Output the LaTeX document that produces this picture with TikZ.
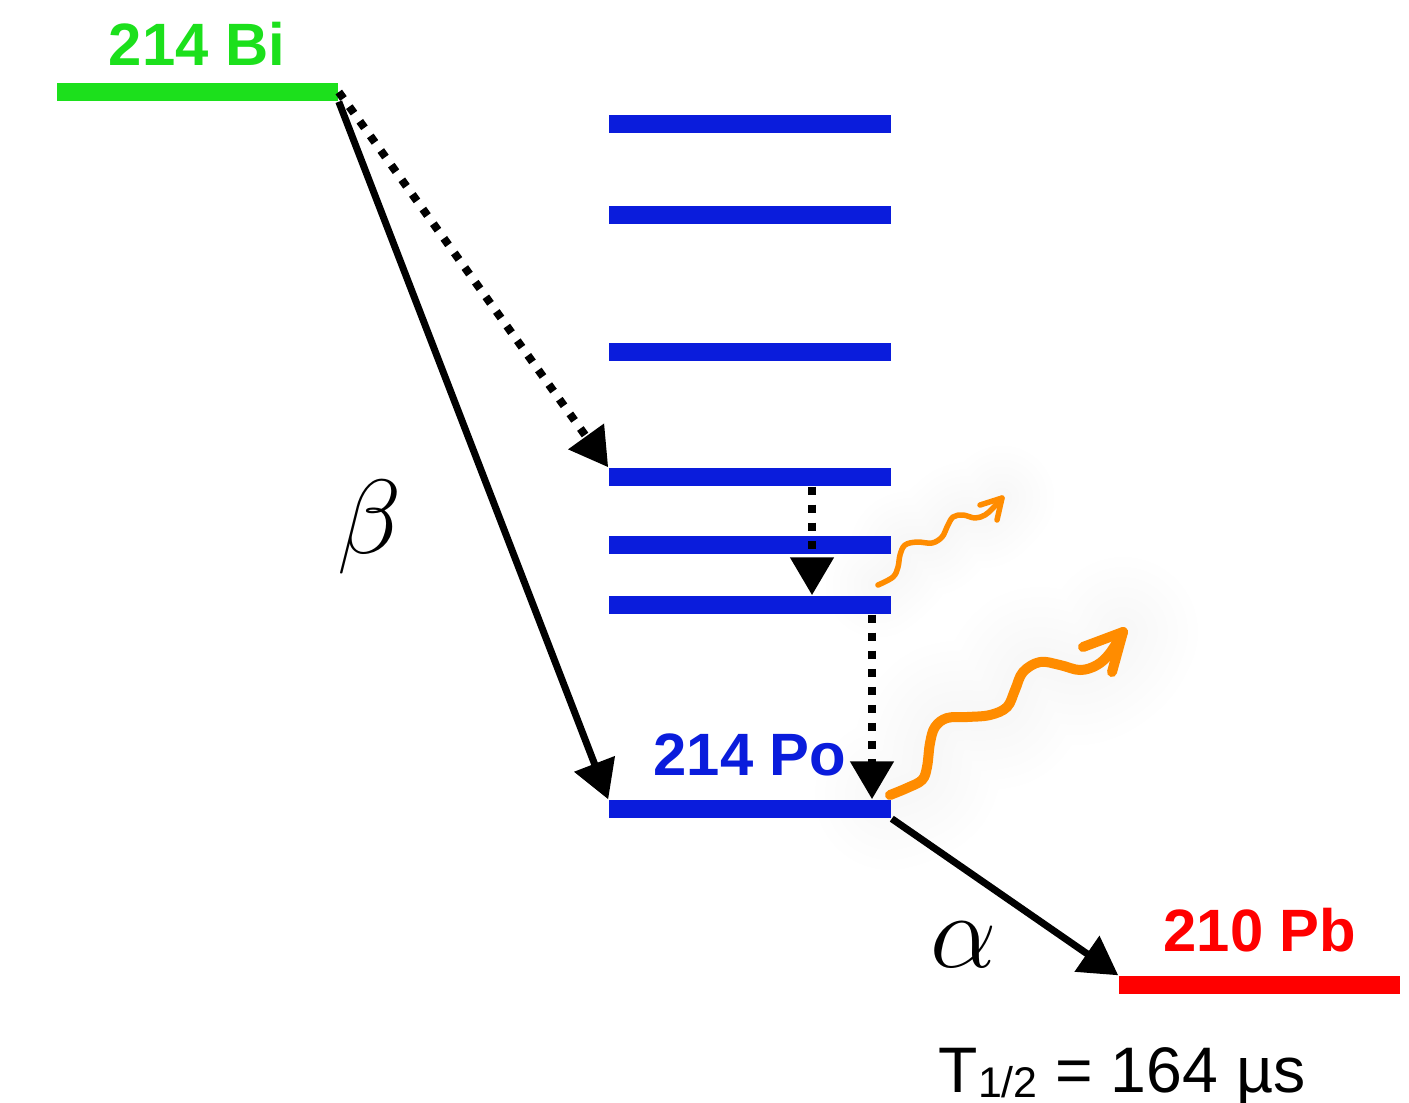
\documentclass[tikz,border=0pt]{standalone}
\usepackage{fix-cm}
\usepackage{fontspec}
\newfontfamily\lab{Liberation Sans}
\usetikzlibrary{arrows.meta,calc}
\definecolor{bigreen}{RGB}{28,224,28}
\definecolor{poblue}{RGB}{10,28,220}
\definecolor{pbred}{RGB}{255,0,0}
\definecolor{gamorange}{RGB}{255,140,0}
\begin{document}
\begin{tikzpicture}[x=0.01cm,y=-0.01cm,
  lvl/.style={inner sep=0pt, minimum width=28.2mm, minimum height=1.8mm, fill=#1},
  isolabel/.style={font=\lab\bfseries\fontsize{17pt}{20pt}\selectfont, anchor=base, inner sep=0pt, text=#1},
  arrowtip/.style={-{Triangle[length=3.8mm,width=4.2mm]}},
  solidarrow/.style={arrowtip, line width=0.7mm},
  dotarrow/.style={arrowtip, line width=0.8mm, dash pattern=on 0.8mm off 1.0mm},
  greek/.style={font=\fontsize{30pt}{36pt}\selectfont, inner sep=0pt},
  gammaray/.style={gamorange, line cap=round, line join=round},
  glow/.style={black, opacity=0.005, line cap=round, line join=round}
]
\useasboundingbox[fill=white] (0,0) rectangle (1409,1102);

% glow behind the photons
\foreach \w in {3,5,...,15}{
  \draw[glow, line width=\w mm] plot[smooth, tension=0.6] coordinates {(890,795) (922,780) (930,743) (947,718) (990,715) (1007,707) (1023,672) (1040,662) (1080,670) (1110,653) (1123,632)};
  \draw[glow, line width=0.7*\w mm] plot[smooth, tension=0.6] coordinates {(878,585) (898,567) (905,545) (932,543) (947,527) (963,515) (985,515) (1002,498)};
}

% levels
\node[lvl=bigreen, minimum width=28.1mm] (bi) at (197.5,92) {};
\node[lvl=poblue] (l1) at (750,124) {};
\node[lvl=poblue] (l2) at (750,215) {};
\node[lvl=poblue] (l3) at (750,352) {};
\node[lvl=poblue] (l4) at (750,477) {};
\node[lvl=poblue] (l5) at (750,545) {};
\node[lvl=poblue] (l6) at (750,605) {};
\node[lvl=poblue] (po) at (750,809) {};
\node[lvl=pbred, minimum width=28.1mm] (pb) at (1259.5,985) {};

% labels
\node[isolabel=bigreen] (tbi) at (197,65) {214 Bi};
\node[isolabel=poblue] (tpo) at (750,775) {214 Po};
\node[isolabel=pbred] (tpb) at (1260,951) {210 Pb};
\node[greek] (beta) at (370,527) {$\beta$};
\node[greek] (alpha) at (964,945) {$\alpha$};
\node[anchor=base west, inner sep=0pt, font=\lab\fontsize{18.3pt}{21pt}\selectfont] (thalf) at (938,1092)
  {T\raisebox{-1.6pt}{\fontsize{12.2pt}{14pt}\selectfont 1/2} = 164 µs};

% transitions
\coordinate (xa) at (812,0);
\coordinate (xb) at (872,0);
\draw[solidarrow] (bi.south east) -- (po.north west);
\draw[dotarrow] (bi.east) -- (l4.north west);
\draw[dotarrow] (l4.south -| xa) -- (l6.north -| xa);
\draw[dotarrow] (l6.south -| xb) -- (po.north -| xb);
\draw[solidarrow] (po.south east) -- (pb.north west);

% photons
\draw[gammaray, line width=0.55mm] plot[smooth, tension=0.6] coordinates {(878,585) (893,577) (898,567) (900,555) (905,545) (917,542) (932,543) (942,537) (947,527) (953,517) (963,515) (975,518) (985,515) (993,508) (1002,498)};
\draw[gammaray, line width=0.55mm] (980,505) -- (1002,498) -- (997,520);
\draw[gammaray, line width=1.0mm] plot[smooth, tension=0.6] coordinates {(890,795) (907,788) (922,780) (927,767) (930,743) (935,727) (947,718) (967,717) (990,715) (1007,707) (1015,690) (1023,672) (1040,662) (1060,665) (1080,670) (1097,665) (1110,653) (1123,632)};
\draw[gammaray, line width=1.0mm] (1083,647) -- (1123,632) -- (1112,672);
\end{tikzpicture}
\end{document}
